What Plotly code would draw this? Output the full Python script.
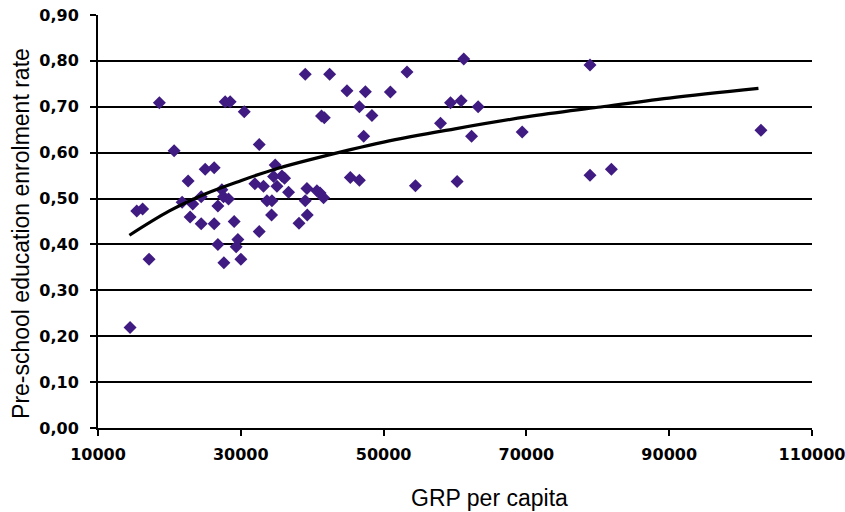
import plotly.graph_objects as go

# GRP per capita (x) and pre-school education enrolment rate (y)
grp = [14490, 15430, 16250, 17150, 18600, 20660, 21780, 22620, 22900, 23270,
       24450, 24450, 25010, 26270, 26270, 26790, 26790, 27350, 27580, 27630,
       27810, 28510, 28280, 29070, 29590, 29350, 30010, 30480, 32580, 32580,
       31970, 33180, 33660, 34360, 34310, 34820, 34590, 35060, 35760, 36130,
       36690, 39030, 42440, 38150, 39310, 39030, 39260, 40660, 41590, 41100,
       41300, 41700, 44870, 47450, 50950, 46610, 48370, 47210, 45340, 46610,
       53280, 61230, 78910, 59370, 60860, 63240, 57970, 62320, 69410, 54460,
       60300, 78910, 81900, 102850]
rate = [0.219, 0.473, 0.477, 0.368, 0.709, 0.604, 0.492, 0.538, 0.460, 0.488,
        0.504, 0.445, 0.564, 0.567, 0.445, 0.484, 0.400, 0.519, 0.504, 0.360,
        0.711, 0.711, 0.499, 0.450, 0.411, 0.395, 0.368, 0.689, 0.618, 0.428,
        0.532, 0.527, 0.495, 0.495, 0.464, 0.573, 0.548, 0.527, 0.549, 0.544,
        0.514, 0.771, 0.771, 0.446, 0.464, 0.495, 0.522, 0.517, 0.502, 0.512,
        0.680, 0.676, 0.735, 0.733, 0.732, 0.700, 0.681, 0.636, 0.546, 0.540,
        0.776, 0.804, 0.791, 0.709, 0.713, 0.700, 0.664, 0.636, 0.645, 0.528,
        0.537, 0.551, 0.564, 0.649]

# Trend line
trend_x = [14400, 20000, 25000, 30000, 35000, 40000, 50000, 60000, 70000, 80000, 90000, 102500]
trend_y = [0.420, 0.473, 0.510, 0.539, 0.565, 0.586, 0.623, 0.652, 0.678, 0.699, 0.719, 0.740]

x_ticks = [10000, 30000, 50000, 70000, 90000, 110000]
y_ticks = [0.0, 0.1, 0.2, 0.3, 0.4, 0.5, 0.6, 0.7, 0.8, 0.9]

fig = go.Figure()
fig.add_trace(go.Scatter(
    x=grp, y=rate, mode="markers",
    marker=dict(symbol="diamond", size=10, color="#401C82", line=dict(width=0)),
    showlegend=False, hoverinfo="x+y"))
fig.add_trace(go.Scatter(
    x=trend_x, y=trend_y, mode="lines", line=dict(color="black", width=3.2, shape="spline"),
    showlegend=False, hoverinfo="skip"))

tick_font = dict(family="DejaVu Sans", size=16, color="black", weight="bold")
fig.update_layout(
    width=845, height=512,
    margin=dict(l=98, r=33, t=15, b=84),
    paper_bgcolor="white", plot_bgcolor="white",
    separators=",.",
    xaxis=dict(range=[10000, 110000], tickvals=x_ticks, tickformat="d", automargin=False,
               showgrid=False, zeroline=False, showline=True, linecolor="black", linewidth=2,
               ticks="outside", ticklen=6, tickwidth=1.5, tickcolor="black",
               ticklabeloverflow="allow", ticklabelstandoff=5,
               tickfont=tick_font),
    yaxis=dict(range=[0, 0.9], tickvals=y_ticks, tickformat=".2f", automargin=False,
               showgrid=True, gridcolor="black", gridwidth=1.5, zeroline=False,
               showline=True, linecolor="black", linewidth=2,
               ticks="outside", ticklen=6, tickwidth=1.5, tickcolor="black",
               ticklabelstandoff=8,
               tickfont=tick_font),
    annotations=[
        dict(text="GRP per capita", xref="paper", yref="paper", x=0.549, y=-0.17,
             xanchor="center", yanchor="middle", showarrow=False,
             font=dict(family="Liberation Sans", size=23, color="black")),
        dict(text="Pre-school education enrolment rate", xref="paper", yref="paper",
             x=-0.108, y=0.472, textangle=-90, xanchor="center", yanchor="middle",
             showarrow=False, font=dict(family="Liberation Sans", size=23, color="black")),
    ],
)
fig.write_html("out.html")
